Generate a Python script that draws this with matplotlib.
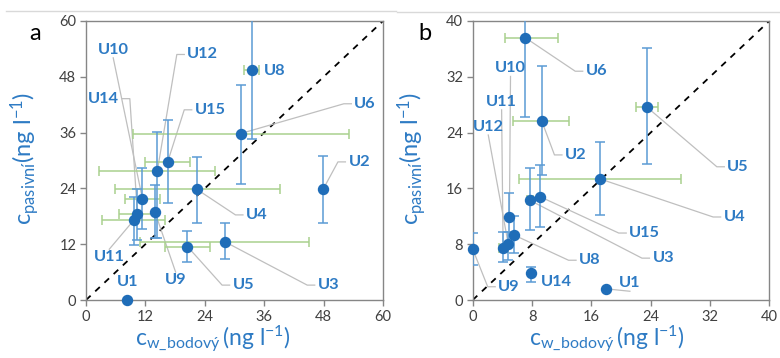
import numpy as np
import matplotlib
matplotlib.use("Agg")
import matplotlib.pyplot as plt
from matplotlib.lines import Line2D

plt.rcParams['font.family'] = ['Lato', 'DejaVu Sans']
plt.rcParams['mathtext.fontset'] = 'custom'
plt.rcParams['mathtext.rm'] = 'Lato'
plt.rcParams['mathtext.it'] = 'Lato:italic'
plt.rcParams['mathtext.bf'] = 'Lato:bold'

# ---- panel a: point sampling vs passive sampling ----
names_a = ['U1', 'U2', 'U3', 'U4', 'U5', 'U6', 'U8', 'U9', 'U10', 'U11', 'U12', 'U14', 'U15']
x_a = [8.2, 47.9, 28.1, 22.4, 20.5, 31.25, 33.6, 13.9, 11.4, 9.6, 14.4, 10.4, 16.5]
y_a = [0.0, 23.8, 12.5, 23.8, 11.5, 35.8, 49.5, 19.0, 21.8, 17.1, 27.7, 18.4, 29.7]
ylo_a = [0.0, 16.5, 8.8, 16.5, 8.1, 24.9, 34.6, 13.3, 15.2, 11.8, 13.3, 12.9, 20.8]
yhi_a = [0.0, 31.0, 16.5, 30.8, 14.9, 46.3, 66.0, 24.7, 28.3, 22.1, 36.1, 23.9, 38.7]
xlo_a = [8.2, 47.9, 10.9, 5.9, 16.0, 9.4, 32.0, 13.9, 7.9, 3.2, 2.7, 6.7, 11.9]
xhi_a = [8.2, 47.9, 45.1, 39.1, 25.1, 53.1, 35.0, 13.9, 15.0, 16.0, 26.1, 13.9, 21.0]

# ---- panel b ----
names_b = ['U1', 'U2', 'U3', 'U4', 'U5', 'U6', 'U8', 'U9', 'U10', 'U11', 'U12', 'U14', 'U15']
x_b = [18.0, 9.3, 7.7, 17.2, 23.45, 7.1, 5.6, 0.0, 4.95, 4.1, 4.8, 7.8, 9.1]
y_b = [1.6, 25.7, 14.3, 17.35, 27.7, 37.6, 9.3, 7.3, 11.85, 7.4, 8.0, 3.8, 14.8]
ylo_b = [1.6, 17.9, 10.0, 12.2, 19.5, 26.3, 6.7, 5.0, 8.3, 5.5, 5.7, 2.6, 10.4]
yhi_b = [1.6, 33.5, 18.9, 22.7, 36.1, 44.0, 12.1, 9.6, 15.4, 9.8, 9.8, 4.8, 19.4]
xlo_b = [18.0, 5.5, 7.3, 6.3, 22.0, 4.3, 5.6, 0.0, 4.95, 3.5, 4.8, 7.8, 9.1]
xhi_b = [18.0, 13.0, 8.1, 28.1, 25.0, 11.5, 5.6, 0.0, 4.95, 4.7, 4.8, 7.8, 9.1]

# label placement (data coordinates of the text centre)
label_pos_a = {
    'U1': (8.4, 3.9), 'U2': (55.2, 29.7), 'U3': (49.0, 3.2), 'U4': (34.5, 18.3),
    'U5': (31.8, 3.2), 'U6': (56.4, 42.2), 'U8': (38.2, 49.3), 'U9': (18.1, 4.3),
    'U10': (5.5, 53.8), 'U11': (4.7, 9.2), 'U12': (23.6, 52.8), 'U14': (3.6, 43.3),
    'U15': (25.1, 40.9),
}
label_pos_b = {
    'U1': (21.2, 2.4), 'U2': (13.9, 20.8), 'U3': (25.7, 6.0), 'U4': (35.3, 11.9),
    'U5': (35.8, 19.1), 'U6': (16.7, 32.8), 'U8': (15.8, 5.7), 'U9': (4.9, 1.9),
    'U10': (5.1, 33.2), 'U11': (3.9, 28.4), 'U12': (2.1, 24.8), 'U14': (11.3, 2.6),
    'U15': (23.2, 9.6),
}
no_leader_a = {'U1', 'U8'}
no_leader_b = {'U14'}

x_ticks_a = [0, 12, 24, 36, 48, 60]
x_ticks_b = [0, 8, 16, 24, 32, 40]

POINT_C = '#1F6DB8'
YERR_C = '#5B9BD5'
XERR_C = '#A9D18E'
LABEL_C = '#2E7BC4'
AXIS_C = '#868686'
TEXT_C = '#404040'
LEADER_C = '#BFBFBF'

W, H = 780, 358
fig = plt.figure(figsize=(W / 100, H / 100), dpi=100)

ax_a = fig.add_axes([86 / W, 1 - 300 / H, 297 / W, 279 / H])
ax_b = fig.add_axes([472.7 / W, 1 - 300 / H, 296.6 / W, 279 / H])


def draw_panel(ax, names, x, y, ylo, yhi, xlo, xhi, ticks):
    x = np.array(x); y = np.array(y)
    yerr = np.vstack([y - np.array(ylo), np.array(yhi) - y])
    xerr = np.vstack([x - np.array(xlo), np.array(xhi) - x])
    lim = ticks[-1]
    ax.plot([0, lim], [0, lim], ls=(0, (3.5, 3.5)), color='black', lw=1.3, zorder=1)
    has_x = (xerr.sum(axis=0) > 0)
    has_y = (yerr.sum(axis=0) > 0)
    ax.errorbar(x[has_y], y[has_y], yerr=yerr[:, has_y], fmt='none', ecolor=YERR_C,
                elinewidth=1.1, capsize=3.5, capthick=1.1, zorder=3)
    ax.errorbar(x[has_x], y[has_x], xerr=xerr[:, has_x], fmt='none', ecolor=XERR_C,
                elinewidth=1.1, capsize=3.5, capthick=1.1, zorder=2)
    ax.plot(x, y, 'o', color=POINT_C, ms=7.2, zorder=5, clip_on=False)
    ax.set_xlim(0, lim)
    ax.set_ylim(0, lim)
    ax.set_xticks(ticks)
    ax.set_yticks(ticks)
    for s in ax.spines.values():
        s.set_color(AXIS_C)
        s.set_linewidth(1.0)
    ax.tick_params(direction='out', length=4, width=1.0, color=AXIS_C,
                   labelcolor=TEXT_C, labelsize=10.5, pad=3)


draw_panel(ax_a, names_a, x_a, y_a, ylo_a, yhi_a, xlo_a, xhi_a, x_ticks_a)
draw_panel(ax_b, names_b, x_b, y_b, ylo_b, yhi_b, xlo_b, xhi_b, x_ticks_b)

ylab = r'$\mathrm{c_{pasivní}(ng\ l^{-1})}$'
xlab = r'$\mathrm{c_{w\_bodový}\,(ng\ l^{-1})}$'
for ax, xc in ((ax_a, 0.428), (ax_b, 0.454)):
    ax.set_ylabel(ylab, color=LABEL_C, fontsize=17)
    ax.yaxis.set_label_coords(-0.205, 0.507)
    ax.yaxis.label.set_va('center')
    ax.set_xlabel(xlab, color=LABEL_C, fontsize=16.5)
    ax.xaxis.set_label_coords(xc, -0.143)
    ax.xaxis.label.set_va('center')

fig.text(35 / W, 1 - 33 / H, 'a', fontsize=17, ha='center', va='center', color='black')
fig.text(425 / W, 1 - 33 / H, 'b', fontsize=17, ha='center', va='center', color='black')

# thin chart-area rules along the top
fig.add_artist(Line2D([6 / W, 396 / W], [1 - 10.5 / H, 1 - 10.5 / H], color='#D9D9D9', lw=1.0))
fig.add_artist(Line2D([397 / W, 1.0], [1 - 11.7 / H, 1 - 11.7 / H], color='#D9D9D9', lw=1.0))


def add_labels(ax, names, x, y, pos, skip):
    texts = {}
    for n in names:
        tx, ty = pos[n]
        texts[n] = ax.text(tx, ty, n, color=LABEL_C, fontsize=11.8, fontweight='bold',
                           ha='center', va='center', zorder=6, clip_on=False)
    fig.canvas.draw()
    inv = ax.transData.inverted()
    r = fig.canvas.get_renderer()
    for n, px_, py_ in zip(names, x, y):
        if n in skip:
            continue
        bb = texts[n].get_window_extent(r)
        cx, cy = (bb.x0 + bb.x1) / 2, (bb.y0 + bb.y1) / 2
        hw = bb.width / 2
        ptx, pty = ax.transData.transform((px_, py_))
        dx, dy = ptx - cx, pty - cy
        if abs(dx) < hw + 15:
            ay = bb.y1 + 1 if dy > 0 else bb.y0 - 1
            pts = [(cx, ay), (ptx, pty)]
        else:
            sgn = 1 if dx > 0 else -1
            ex = (bb.x1 + 3) if sgn > 0 else (bb.x0 - 3)
            pts = [(ex, cy), (ex + sgn * 7.5, cy), (ptx, pty)]
        data = inv.transform(pts)
        ax.plot(data[:, 0], data[:, 1], color=LEADER_C, lw=0.9, zorder=1.5, clip_on=False)


add_labels(ax_a, names_a, x_a, y_a, label_pos_a, no_leader_a)
add_labels(ax_b, names_b, x_b, y_b, label_pos_b, no_leader_b)

fig.savefig('out.png', dpi=100)
